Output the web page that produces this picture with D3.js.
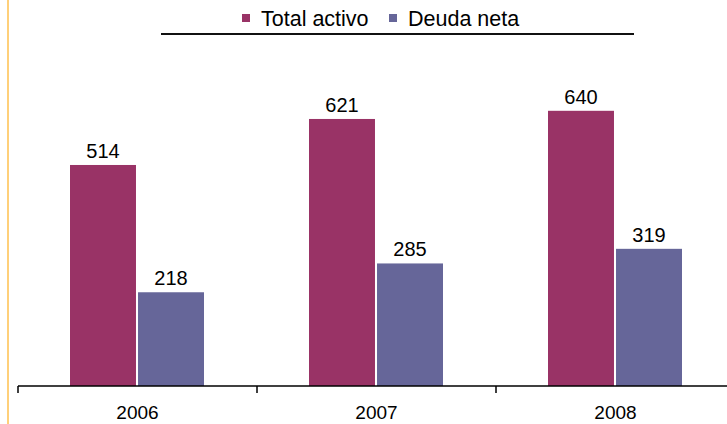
<!DOCTYPE html>
<html>
<head>
<meta charset="utf-8">
<script src="https://cdn.jsdelivr.net/npm/d3@7"></script>
<style>
  html, body { margin: 0; padding: 0; background: #fff; }
  text { font-family: "Liberation Sans", Arial, sans-serif; fill: #000; }
</style>
</head>
<body>
<svg id="chart" width="727" height="424"></svg>
<script>
const years = ["2006", "2007", "2008"];
const seriesNames = ["Total activo", "Deuda neta"];
const totalActivo = [514, 621, 640];
const deudaNeta = [218, 285, 319];
const colors = ["#993366", "#666699"];

const svg = d3.select("#chart");
const baseY = 386;

const x = d3.scaleBand().domain(years).range([18, 735]);
const xInner = d3.scaleBand().domain(seriesNames).range([52, 186]).paddingInner(0.03);
const y = d3.scaleLinear().domain([0, 700]).range([baseY, 85]);

// left accent line
svg.append("line")
  .attr("x1", 8).attr("x2", 8)
  .attr("y1", 0).attr("y2", 424)
  .attr("stroke", "#ffd07a")
  .attr("stroke-width", 2);

const rows = years.map((yr, i) => ({ year: yr, values: [totalActivo[i], deudaNeta[i]] }));

const groups = svg.selectAll("g.year")
  .data(rows)
  .join("g")
  .attr("class", "year")
  .attr("transform", d => `translate(${x(d.year)},0)`);

const bars = groups.selectAll("g.bar")
  .data(d => d.values.map((v, j) => ({ name: seriesNames[j], value: v, idx: j })))
  .join("g")
  .attr("class", "bar");

bars.append("rect")
  .attr("x", d => xInner(d.name))
  .attr("y", d => y(d.value))
  .attr("width", xInner.bandwidth())
  .attr("height", d => baseY - y(d.value))
  .attr("fill", d => colors[d.idx]);

bars.append("text")
  .attr("x", d => xInner(d.name) + xInner.bandwidth() / 2)
  .attr("y", d => y(d.value) - 7)
  .attr("text-anchor", "middle")
  .style("font-size", "20px")
  .text(d => d.value);

// x axis
const axis = svg.append("g")
  .attr("transform", `translate(0,${baseY})`);
axis.append("line")
  .attr("x1", 18).attr("x2", 727)
  .attr("stroke", "#000").attr("stroke-width", 1.5);
axis.selectAll("line.tick")
  .data(years.concat(["end"]))
  .join("line")
  .attr("class", "tick")
  .attr("x1", (d, i) => 18 + i * x.step())
  .attr("x2", (d, i) => 18 + i * x.step())
  .attr("y1", 0).attr("y2", 7)
  .attr("stroke", "#000").attr("stroke-width", 1.5);
axis.selectAll("text")
  .data(years)
  .join("text")
  .attr("x", d => x(d) + x.bandwidth() / 2)
  .attr("y", 33)
  .attr("text-anchor", "middle")
  .style("font-size", "19px")
  .text(d => d);

// legend
const legend = svg.append("g");
const legendX = [242, 389];
seriesNames.forEach((name, i) => {
  legend.append("rect")
    .attr("x", legendX[i]).attr("y", 14)
    .attr("width", 8).attr("height", 8)
    .attr("fill", colors[i]);
  legend.append("text")
    .attr("x", legendX[i] + 19).attr("y", 26)
    .style("font-size", "21.5px")
    .text(name);
});
legend.append("line")
  .attr("x1", 161).attr("x2", 634)
  .attr("y1", 34).attr("y2", 34)
  .attr("stroke", "#111").attr("stroke-width", 2);
</script>
</body>
</html>
